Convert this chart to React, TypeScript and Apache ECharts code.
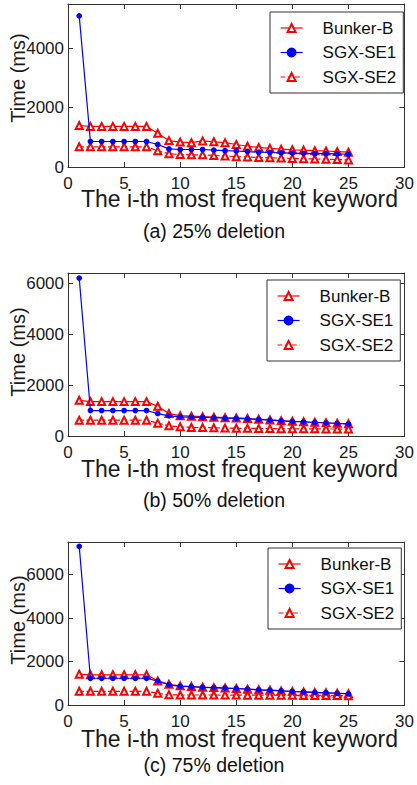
import React, { useEffect, useRef } from "react";
import * as echarts from "echarts";

const KEYWORD_RANKS = [1, 2, 3, 4, 5, 6, 7, 8, 9, 10, 11, 12, 13, 14, 15, 16, 17, 18, 19, 20, 21, 22, 23, 24, 25];
const SERIES_NAMES = ["Bunker-B", "SGX-SE1", "SGX-SE2"];
const X_TICKS = [0, 5, 10, 15, 20, 25, 30];
const Y_TICK_STEP = 2000;
const Y_MAX = [5500, 6400, 7500];
const CAPTIONS = ["(a) 25% deletion", "(b) 50% deletion", "(c) 75% deletion"];
const X_LABEL = "The i-th most frequent keyword";
const Y_LABEL = "Time (ms)";

// 25% deletion
const bunkerB25 = [1400, 1370, 1370, 1370, 1370, 1370, 1370, 1140, 890, 840, 820, 880, 850, 820, 760, 700, 660, 630, 600, 580, 570, 550, 540, 520, 500];
const sgxSe1_25 = [5100, 860, 860, 860, 860, 860, 860, 760, 610, 590, 590, 590, 570, 550, 540, 520, 500, 490, 480, 470, 460, 450, 450, 440, 430];
const sgxSe2_25 = [680, 680, 680, 680, 680, 680, 680, 545, 450, 420, 410, 410, 390, 370, 350, 340, 320, 310, 300, 290, 280, 270, 260, 250, 240];

// 50% deletion
const bunkerB50 = [1400, 1350, 1350, 1350, 1350, 1350, 1350, 1170, 880, 800, 780, 760, 740, 720, 710, 690, 660, 630, 600, 580, 560, 540, 520, 500, 480];
const sgxSe1_50 = [6200, 1000, 1000, 1000, 1000, 1000, 1000, 880, 790, 750, 740, 730, 720, 700, 690, 670, 650, 620, 590, 570, 550, 530, 510, 490, 470];
const sgxSe2_50 = [620, 620, 620, 620, 620, 620, 620, 505, 400, 360, 335, 330, 320, 310, 305, 300, 295, 290, 285, 285, 280, 280, 275, 275, 270];

// 75% deletion
const bunkerB75 = [1420, 1390, 1390, 1390, 1390, 1390, 1390, 1110, 950, 880, 850, 820, 800, 780, 760, 730, 700, 680, 650, 620, 600, 580, 560, 540, 520];
const sgxSe1_75 = [7300, 1230, 1230, 1230, 1230, 1230, 1230, 1100, 930, 860, 840, 815, 800, 780, 760, 730, 700, 680, 650, 620, 600, 580, 560, 540, 510];
const sgxSe2_75 = [630, 630, 630, 630, 630, 630, 630, 540, 470, 460, 460, 460, 460, 455, 455, 450, 450, 450, 445, 445, 440, 440, 440, 435, 430];

const PANELS = [
  [bunkerB25, sgxSe1_25, sgxSe2_25],
  [bunkerB50, sgxSe1_50, sgxSe2_50],
  [bunkerB75, sgxSe1_75, sgxSe2_75],
];

const FONT = "'Liberation Sans', Arial, Helvetica, sans-serif";
const TEXT_COLOR = "#1a1a1a";
const AXIS_COLOR = "#333";

const GRID_TOPS = [4, 273, 542];
const GRID_HEIGHT = 163;
const GRID_LEFT = 68;
const GRID_RIGHT = 6;
const LEGEND_POS = [
  { left: 270, top: 12 },
  { left: 267, top: 280 },
  { left: 268, top: 548 },
];
const XLABEL_Y = [199, 469, 739];
const CAPTION_Y = [231, 500, 765];
const YLABEL_Y = [78, 352, 620];

const STYLES = [
  { color: "#ff0000", type: "solid", symbol: "emptyTriangle", size: 7 },
  { color: "#0000ff", type: "solid", symbol: "circle", size: 4.5 },
  { color: "#ff0000", type: "dashed", symbol: "emptyTriangle", size: 7 },
];

export default function App() {
  const ref = useRef<HTMLDivElement>(null);

  useEffect(() => {
    if (!ref.current) return;
    const chart = echarts.init(ref.current, undefined, { renderer: "svg" });

    const grids: any[] = [];
    const xAxes: any[] = [];
    const yAxes: any[] = [];
    const series: any[] = [];
    const legends: any[] = [];
    const graphics: any[] = [];

    PANELS.forEach((panel, i) => {
      grids.push({ left: GRID_LEFT, right: GRID_RIGHT, top: GRID_TOPS[i], height: GRID_HEIGHT });
      const axisLine = { show: true, onZero: false, lineStyle: { color: AXIS_COLOR, width: 1 } };
      const tick = { show: true, inside: true, length: 5, lineStyle: { color: AXIS_COLOR } };
      xAxes.push({
        type: "value",
        gridIndex: i,
        position: "bottom",
        min: X_TICKS[0],
        max: X_TICKS[X_TICKS.length - 1],
        interval: X_TICKS[1] - X_TICKS[0],
        axisLine,
        axisTick: tick,
        splitLine: { show: false },
        axisLabel: { fontSize: 17, color: TEXT_COLOR, fontFamily: FONT, margin: 8, formatter: (v: number) => String(v) },
      });
      xAxes.push({
        type: "value",
        gridIndex: i,
        position: "top",
        min: X_TICKS[0],
        max: X_TICKS[X_TICKS.length - 1],
        interval: X_TICKS[1] - X_TICKS[0],
        axisLine,
        axisTick: tick,
        splitLine: { show: false },
        axisLabel: { show: false },
      });
      yAxes.push({
        type: "value",
        gridIndex: i,
        position: "left",
        min: 0,
        max: Y_MAX[i],
        interval: Y_TICK_STEP,
        axisLine,
        axisTick: tick,
        splitLine: { show: false },
        axisLabel: {
          fontSize: 17,
          color: TEXT_COLOR,
          fontFamily: FONT,
          margin: 4,
          showMaxLabel: false,
          formatter: (v: number) => String(v),
        },
      });
      yAxes.push({
        type: "value",
        gridIndex: i,
        position: "right",
        min: 0,
        max: Y_MAX[i],
        interval: Y_TICK_STEP,
        axisLine,
        axisTick: tick,
        splitLine: { show: false },
        axisLabel: { show: false },
      });

      panel.forEach((vals, s) => {
        const st = STYLES[s];
        series.push({
          type: "line",
          name: SERIES_NAMES[s],
          xAxisIndex: 2 * i,
          yAxisIndex: 2 * i,
          data: KEYWORD_RANKS.map((k, j) => [k, vals[j]]),
          symbol: st.symbol,
          symbolSize: st.size,
          showAllSymbol: true,
          z: s === 1 ? 4 : 3,
          lineStyle: { color: st.color, width: 1.2, type: st.type },
          itemStyle: { color: st.color, borderColor: st.color, borderWidth: 1.2 },
          emphasis: { disabled: true },
        });
      });

      legends.push({
        show: true,
        orient: "vertical",
        left: LEGEND_POS[i].left,
        top: LEGEND_POS[i].top,
        data: SERIES_NAMES.map((n, s) => ({
          name: n,
          lineStyle: { type: STYLES[s].type, width: 1.2, color: STYLES[s].color },
          itemStyle: { color: STYLES[s].color },
        })),
        selectedMode: false,
        backgroundColor: "#fff",
        borderColor: "#333",
        borderWidth: 1,
        padding: [7, 7, 7, 10],
        itemWidth: 22,
        itemHeight: 10,
        itemGap: 6.5,
        textStyle: { fontSize: 17, color: "#111", fontFamily: FONT, lineHeight: 18, padding: [0, 0, 0, 15] },
      });

      graphics.push({
        type: "text",
        x: (GRID_LEFT + (417 - GRID_RIGHT)) / 2,
        y: XLABEL_Y[i],
        style: { text: X_LABEL, fontSize: 23, fill: TEXT_COLOR, fontFamily: FONT, align: "center", verticalAlign: "middle" },
        z: 10,
      });
      graphics.push({
        type: "text",
        x: 214,
        y: CAPTION_Y[i],
        style: { text: CAPTIONS[i], fontSize: 19.5, fill: "#111", fontFamily: FONT, align: "center", verticalAlign: "middle" },
      });
      graphics.push({
        type: "text",
        x: 18,
        y: YLABEL_Y[i],
        rotation: Math.PI / 2,
        style: { text: Y_LABEL, fontSize: 20, fill: TEXT_COLOR, fontFamily: FONT, align: "center", verticalAlign: "middle" },
        z: 10,
      });
    });

    chart.setOption({
      animation: false,
      backgroundColor: "#fff",
      grid: grids,
      xAxis: xAxes,
      yAxis: yAxes,
      series,
      legend: legends,
      graphic: graphics,
    });

    return () => chart.dispose();
  }, []);

  return <div ref={ref} style={{ position: "absolute", left: 0, top: 0, width: 417, height: 785 }} />;
}
